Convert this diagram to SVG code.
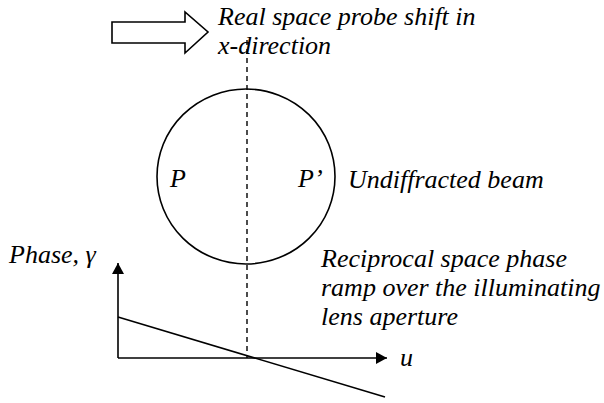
<svg xmlns="http://www.w3.org/2000/svg" width="604" height="403" viewBox="0 0 604 403">
<style>
.t{font-family:'Times New Roman','Liberation Serif','DejaVu Serif',serif;font-style:italic;font-size:26px;fill:#000}
.ln{stroke:#000;stroke-width:1.6;fill:none}
.dash{stroke:#000;stroke-width:1.4;stroke-dasharray:5,4;fill:none}
</style>
<defs>
<marker id="ah" markerWidth="12" markerHeight="12" refX="11" refY="6" orient="auto" markerUnits="userSpaceOnUse">
<path d="M0,0 L11,6 L0,12 Z" fill="#000"/>
</marker>
</defs>
<rect width="604" height="403" fill="#fff"/>
<g id="shift-arrow">
<path class="ln" d="M112,22 L185,22 L185,12 L208,32 L185,53 L185,43 L112,43 Z"/>
</g>
<g id="shift-label">
<text class="t" x="218" y="25">Real space probe shift in</text>
<text class="t" x="218" y="54">x-direction</text>
</g>
<g id="beam">
<ellipse class="ln" cx="246" cy="176.5" rx="89" ry="87.5"/>
<text class="t" x="170" y="187">P</text>
<text class="t" x="298" y="187">P’</text>
</g>
<g id="beam-label">
<text class="t" x="348" y="188">Undiffracted beam</text>
</g>
<g id="phase-label">
<text class="t" x="9" y="263">Phase, γ</text>
</g>
<g id="ramp-label">
<text class="t" x="321" y="267">Reciprocal space phase</text>
<text class="t" x="321" y="296">ramp over the illuminating</text>
<text class="t" x="321" y="325">lens aperture</text>
</g>
<g id="u-label">
<text class="t" x="400" y="366">u</text>
</g>
<g id="connectors">
<line class="dash" x1="247" y1="40" x2="247" y2="358"/>
<line class="ln" x1="118" y1="358" x2="118" y2="263" marker-end="url(#ah)"/>
<line class="ln" x1="118" y1="358" x2="387" y2="358" marker-end="url(#ah)"/>
<line class="ln" x1="118" y1="317" x2="385" y2="397"/>
</g>
</svg>
